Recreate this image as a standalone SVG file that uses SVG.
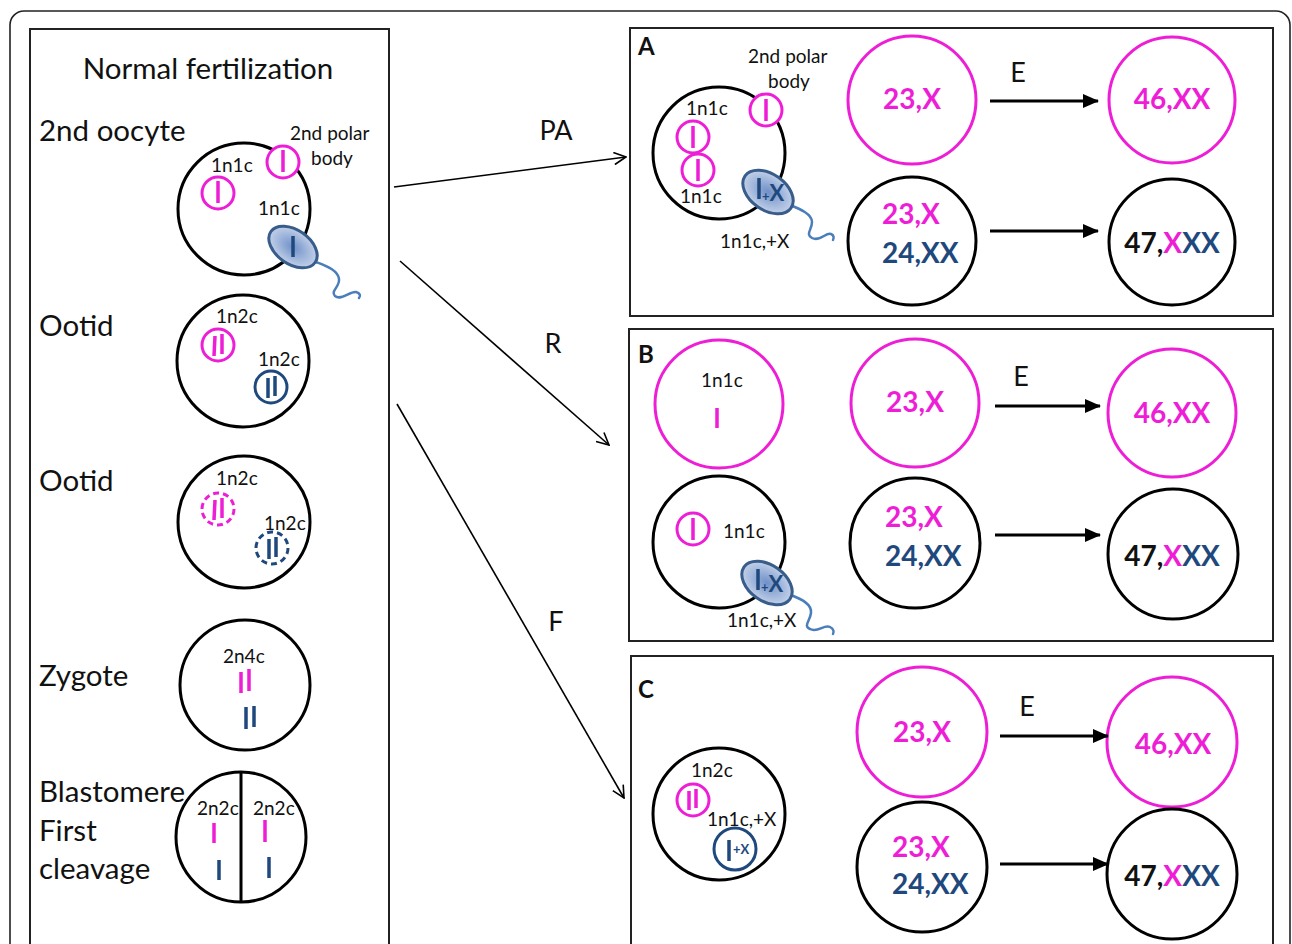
<svg xmlns="http://www.w3.org/2000/svg" width="1292" height="944" viewBox="0 0 1292 944">
  <style>
    text { font-family: Lato, "Liberation Sans", sans-serif; fill: #111; }
    .head { font-size: 29.5px; }
    .route { font-size: 27px; }
    .lbl { font-size: 19px; }
    .panel-letter { font-size: 24px; font-weight: bold; }
    .num { font-size: 28px; font-weight: bold; }
    .mag { fill: #ee1ed6; }
    .navy { fill: #1f497d; }
    .frame { fill: none; stroke: #222; stroke-width: 1.6; }
    .box { fill: #fff; stroke: #222; stroke-width: 2; }
    .cell { fill: #fff; stroke: #000; stroke-width: 3; }
    .cell-m { fill: #fff; stroke: #ee1ed6; stroke-width: 3; }
    .nuc-m { fill: #fff; stroke: #ee1ed6; stroke-width: 3; }
    .nuc-n { fill: none; stroke: #1f497d; stroke-width: 3; }
    .dash { stroke-dasharray: 6 4; }
    .chr-m { stroke: #ee1ed6; stroke-width: 3.5; }
    .chr-n { stroke: #1f497d; stroke-width: 3.5; }
    .sperm { fill: url(#spermFill); stroke: #385d8a; stroke-width: 3; }
    .tail { fill: none; stroke: #4a7ebb; stroke-width: 2.5; stroke-linecap: round; }
    .path-arrow { fill: none; stroke: #000; stroke-width: 1.6; marker-end: url(#openHead); }
    .step-arrow { fill: none; stroke: #000; stroke-width: 3; marker-end: url(#solidHead); }
  </style>
  <defs>
    <radialGradient id="spermFill" cx="0.5" cy="0.5" r="0.6">
      <stop offset="0" stop-color="#6f90c8"/>
      <stop offset="1" stop-color="#d3ddef"/>
    </radialGradient>
    <marker id="openHead" viewBox="0 0 14 14" refX="13" refY="7" markerWidth="14" markerHeight="14" markerUnits="userSpaceOnUse" orient="auto">
      <path d="M1,1 L13,7 L1,13" fill="none" stroke="#000" stroke-width="1.6"/>
    </marker>
    <marker id="solidHead" viewBox="0 0 16 14" refX="15" refY="7" markerWidth="16" markerHeight="14" markerUnits="userSpaceOnUse" orient="auto">
      <path d="M0,0 L16,7 L0,14 Z" fill="#000"/>
    </marker>
  </defs>

  <rect width="1292" height="944" fill="#fff"/>
  <rect class="frame" x="10" y="11" width="1280" height="960" rx="14"/>

  <!-- Left column: normal fertilization sequence -->
  <g id="normal-fertilization">
    <rect class="box" x="30" y="29" width="359" height="930"/>
    <text class="head" x="208" y="79" text-anchor="middle">Normal fertilization</text>
  </g>

  <g id="second-oocyte">
    <text class="head" x="39" y="141">2nd oocyte</text>
    <circle class="cell" cx="244" cy="209" r="66"/>
    <circle class="nuc-m" cx="218" cy="193" r="16"/>
    <line class="chr-m" x1="218" y1="181" x2="218" y2="203"/>
    <circle class="nuc-m" cx="283" cy="162" r="16"/>
    <line class="chr-m" x1="283" y1="150" x2="283" y2="172"/>
    <text class="lbl" x="211" y="172">1n1c</text>
    <text class="lbl" x="290" y="140">2nd polar</text>
    <text class="lbl" x="311" y="165">body</text>
    <text class="lbl" x="258" y="215">1n1c</text>
    <path class="tail" d="M316,262 C326,266 338,270 339,279 C340,287 330,291 335,296 C341,301 350,291 356,292 C360,293 361,296 359,298"/>
    <ellipse class="sperm" cx="293" cy="247" rx="27" ry="17" transform="rotate(35 293 247)"/>
    <line class="chr-n" x1="293" y1="236" x2="293" y2="257"/>
  </g>

  <g id="ootid-1">
    <text class="head" x="39" y="336">Ootid</text>
    <circle class="cell" cx="243" cy="361" r="66"/>
    <text class="lbl" x="216" y="323">1n2c</text>
    <circle class="nuc-m" cx="218" cy="345" r="16"/>
    <line class="chr-m" x1="215" y1="336" x2="214" y2="356"/>
    <line class="chr-m" x1="222" y1="334" x2="222" y2="354"/>
    <text class="lbl" x="258" y="366">1n2c</text>
    <circle class="nuc-n" cx="271" cy="387" r="16"/>
    <line class="chr-n" x1="268" y1="378" x2="268" y2="398"/>
    <line class="chr-n" x1="275" y1="376" x2="275" y2="396"/>
  </g>

  <g id="ootid-2">
    <text class="head" x="39" y="491">Ootid</text>
    <circle class="cell" cx="244" cy="522" r="66"/>
    <text class="lbl" x="216" y="485">1n2c</text>
    <circle class="nuc-m dash" cx="218" cy="509" r="16"/>
    <line class="chr-m" x1="215" y1="500" x2="214" y2="520"/>
    <line class="chr-m" x1="222" y1="498" x2="222" y2="518"/>
    <text class="lbl" x="264" y="530">1n2c</text>
    <circle class="nuc-n dash" cx="272" cy="548" r="16"/>
    <line class="chr-n" x1="269" y1="539" x2="269" y2="559"/>
    <line class="chr-n" x1="276" y1="537" x2="276" y2="557"/>
  </g>

  <g id="zygote">
    <text class="head" x="39" y="686">Zygote</text>
    <circle class="cell" cx="245" cy="685" r="65"/>
    <text class="lbl" x="223" y="663">2n4c</text>
    <line class="chr-m" x1="241" y1="672" x2="241" y2="693"/>
    <line class="chr-m" x1="249" y1="669" x2="249" y2="691"/>
    <line class="chr-n" x1="246" y1="707" x2="246" y2="729"/>
    <line class="chr-n" x1="254" y1="706" x2="254" y2="727"/>
  </g>

  <g id="blastomere">
    <circle class="cell" cx="241" cy="837" r="65"/>
    <line x1="241" y1="772" x2="241" y2="902" stroke="#000" stroke-width="3"/>
    <text class="head" x="39" y="802">Blastomere</text>
    <text class="head" x="39" y="841">First</text>
    <text class="head" x="39" y="879">cleavage</text>
    <text class="lbl" x="197" y="815">2n2c</text>
    <text class="lbl" x="253" y="815">2n2c</text>
    <line class="chr-m" x1="214" y1="823" x2="214" y2="843"/>
    <line class="chr-m" x1="265" y1="820" x2="265" y2="842"/>
    <line class="chr-n" x1="219" y1="860" x2="219" y2="880"/>
    <line class="chr-n" x1="269" y1="857" x2="269" y2="878"/>
  </g>

  <!-- Panel A -->
  <g id="panel-a">
    <rect class="box" x="630" y="28" width="643" height="288"/>
    <text class="panel-letter" x="638" y="55">A</text>
    <circle class="cell" cx="719" cy="153" r="66"/>
    <text class="lbl" x="748" y="63">2nd polar</text>
    <text class="lbl" x="768" y="88">body</text>
    <circle class="nuc-m" cx="766" cy="110" r="16"/>
    <line class="chr-m" x1="766" y1="99" x2="766" y2="121"/>
    <text class="lbl" x="686" y="115">1n1c</text>
    <circle class="nuc-m" cx="693" cy="137" r="16"/>
    <line class="chr-m" x1="693" y1="126" x2="693" y2="148"/>
    <circle class="nuc-m" cx="698" cy="170" r="16"/>
    <line class="chr-m" x1="698" y1="159" x2="698" y2="181"/>
    <text class="lbl" x="680" y="203">1n1c</text>
    <path class="tail" d="M790,205 C800,209 812,214 812,222 C812,230 805,234 812,238 C820,242 826,232 831,234 C834,235 834,238 833,240"/>
    <ellipse class="sperm" cx="768" cy="192" rx="28" ry="18" transform="rotate(35 768 192)"/>
    <line class="chr-n" x1="759" y1="178" x2="759" y2="199"/>
    <text class="navy" x="762" y="201" font-size="22" font-weight="bold"><tspan font-size="13">+</tspan>X</text>
    <text class="lbl" x="720" y="248">1n1c,+X</text>

    <circle class="cell-m" cx="912" cy="100" r="64"/>
    <text class="num mag" x="912" y="109" text-anchor="middle">23,X</text>
    <circle class="cell" cx="912" cy="241" r="64"/>
    <text class="num mag" x="882" y="224">23,X</text>
    <text class="num navy" x="882" y="263">24,XX</text>
    <circle class="cell-m" cx="1172" cy="100" r="63"/>
    <text class="num mag" x="1172" y="109" text-anchor="middle">46,XX</text>
    <circle class="cell" cx="1172" cy="242" r="63"/>
    <text class="num" x="1172" y="253" text-anchor="middle">47,<tspan class="mag">X</tspan><tspan class="navy">XX</tspan></text>
    <text class="route" x="1018" y="82" text-anchor="middle">E</text>
  </g>

  <!-- Panel B -->
  <g id="panel-b">
    <rect class="box" x="629" y="329" width="644" height="312"/>
    <text class="panel-letter" x="638" y="363">B</text>
    <circle class="cell-m" cx="719" cy="404" r="64"/>
    <text class="lbl" x="701" y="387">1n1c</text>
    <line class="chr-m" x1="717" y1="408" x2="717" y2="428"/>
    <circle class="cell" cx="719" cy="542" r="66"/>
    <circle class="nuc-m" cx="693" cy="529" r="16"/>
    <line class="chr-m" x1="693" y1="518" x2="693" y2="540"/>
    <text class="lbl" x="723" y="538">1n1c</text>
    <path class="tail" d="M791,595 C801,599 812,604 811,613 C810,621 803,626 810,629 C818,633 824,624 830,627 C834,629 834,632 833,634"/>
    <ellipse class="sperm" cx="767" cy="583" rx="28" ry="18" transform="rotate(35 767 583)"/>
    <line class="chr-n" x1="758" y1="569" x2="758" y2="590"/>
    <text class="navy" x="761" y="592" font-size="22" font-weight="bold"><tspan font-size="13">+</tspan>X</text>
    <text class="lbl" x="727" y="627">1n1c,+X</text>

    <circle class="cell-m" cx="915" cy="403" r="64"/>
    <text class="num mag" x="915" y="412" text-anchor="middle">23,X</text>
    <circle class="cell" cx="915" cy="543" r="65"/>
    <text class="num mag" x="885" y="527">23,X</text>
    <text class="num navy" x="885" y="566">24,XX</text>
    <circle class="cell-m" cx="1172" cy="413" r="64"/>
    <text class="num mag" x="1172" y="423" text-anchor="middle">46,XX</text>
    <circle class="cell" cx="1173" cy="554" r="65"/>
    <text class="num" x="1172" y="566" text-anchor="middle">47,<tspan class="mag">X</tspan><tspan class="navy">XX</tspan></text>
    <text class="route" x="1021" y="386" text-anchor="middle">E</text>
  </g>

  <!-- Panel C -->
  <g id="panel-c">
    <rect class="box" x="631" y="656" width="642" height="300"/>
    <text class="panel-letter" x="638" y="698">C</text>
    <circle class="cell" cx="719" cy="814" r="66"/>
    <text class="lbl" x="691" y="777">1n2c</text>
    <circle class="nuc-m" cx="693" cy="800" r="16"/>
    <line class="chr-m" x1="689" y1="791" x2="689" y2="810"/>
    <line class="chr-m" x1="696" y1="789" x2="696" y2="808"/>
    <text class="lbl" x="707" y="826">1n1c,+X</text>
    <circle class="nuc-n" cx="735" cy="849" r="21"/>
    <line class="chr-n" x1="729" y1="840" x2="729" y2="861"/>
    <text class="navy" x="733" y="854" font-size="13" font-weight="bold">+X</text>

    <circle class="cell-m" cx="922" cy="732" r="65"/>
    <text class="num mag" x="922" y="742" text-anchor="middle">23,X</text>
    <circle class="cell" cx="922" cy="867" r="65"/>
    <text class="num mag" x="892" y="857">23,X</text>
    <text class="num navy" x="892" y="894">24,XX</text>
    <circle class="cell-m" cx="1172" cy="742" r="65"/>
    <text class="num mag" x="1173" y="754" text-anchor="middle">46,XX</text>
    <circle class="cell" cx="1172" cy="874" r="65"/>
    <text class="num" x="1172" y="886" text-anchor="middle">47,<tspan class="mag">X</tspan><tspan class="navy">XX</tspan></text>
    <text class="route" x="1027" y="716" text-anchor="middle">E</text>
  </g>

  <!-- Connectors -->
  <g id="connectors">
    <path class="path-arrow" d="M394,187 L626,157"/>
    <text class="route" x="556" y="140" text-anchor="middle">PA</text>
    <path class="path-arrow" d="M400,261 L609,445"/>
    <text class="route" x="553" y="353" text-anchor="middle">R</text>
    <path class="path-arrow" d="M397,404 L624,798"/>
    <text class="route" x="556" y="631" text-anchor="middle">F</text>

    <path class="step-arrow" d="M990,101 L1098,101"/>
    <path class="step-arrow" d="M990,231 L1098,231"/>
    <path class="step-arrow" d="M995,406 L1100,406"/>
    <path class="step-arrow" d="M995,535 L1100,535"/>
    <path class="step-arrow" d="M1000,736 L1108,736"/>
    <path class="step-arrow" d="M1000,864 L1108,864"/>
  </g>
</svg>
